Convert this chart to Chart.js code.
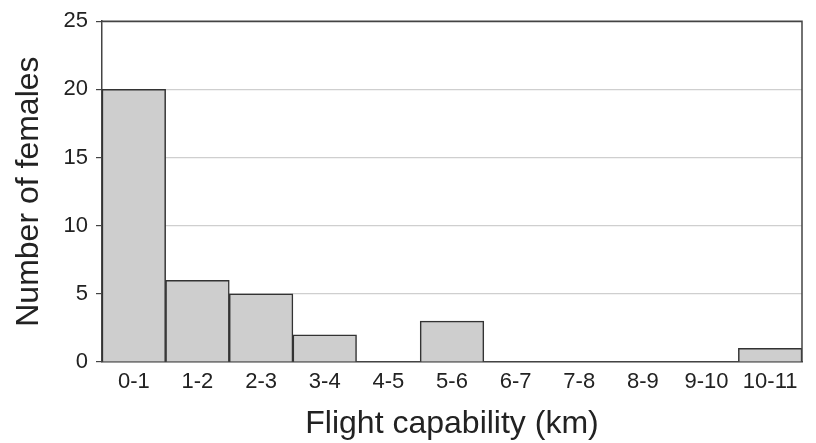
<!DOCTYPE html>
<html><head><meta charset="utf-8">
<script src="https://cdn.jsdelivr.net/npm/chart.js@4/dist/chart.umd.min.js"></script>
<style>html,body{margin:0;padding:0;background:#fff}#w{width:816px;height:443px}</style>
</head><body><div id="w"><canvas id="c"></canvas></div>
<script>
const categories = ["0-1","1-2","2-3","3-4","4-5","5-6","6-7","7-8","8-9","9-10","10-11"];
const females = [20,6,5,2,0,3,0,0,0,0,1];
const yTicks = [0,5,10,15,20,25];

const frame = {
  id:'frame',
  afterDatasetsDraw(chart){
    const {ctx, chartArea:a} = chart;
    ctx.save();
    ctx.strokeStyle='#444'; ctx.lineWidth=1.5;
    ctx.beginPath();
    ctx.moveTo(a.left,a.top); ctx.lineTo(a.right,a.top); ctx.lineTo(a.right,a.bottom);
    ctx.stroke();
    ctx.restore();
  }
};

new Chart(document.getElementById('c'),{
  type:'bar',
  data:{labels:categories,datasets:[{data:females,backgroundColor:'#cecece',borderColor:'#333',borderWidth:1.5,categoryPercentage:1,barPercentage:1}]},
  options:{
    responsive:true,maintainAspectRatio:false,animation:false,
    layout:{padding:{left:0,right:14,top:18,bottom:0}},
    plugins:{legend:{display:false},tooltip:{enabled:false}},
    scales:{
      x:{
        grid:{display:false,drawTicks:false},
        border:{color:'#444',width:1.5},
        ticks:{color:'#222',font:{family:'Liberation Sans',size:22},padding:7,maxRotation:0,autoSkip:false},
        title:{display:true,text:'Flight capability (km)',color:'#222',font:{family:'Liberation Sans',size:32},padding:{top:2,bottom:0}},
        afterFit(s){s.height=81;}
      },
      y:{
        min:0,max:25,
        afterBuildTicks(s){s.ticks=yTicks.map(v=>({value:v}));},
        grid:{color:c=>c.tick&&c.tick.value===25?'#444':'#cfcfcf',lineWidth:1.2,tickLength:6,tickColor:'#444'},
        border:{color:'#444',width:1.5},
        ticks:{color:'#222',font:{family:'Liberation Sans',size:22},padding:8},
        title:{display:true,text:'Number of females',color:'#222',font:{family:'Liberation Sans',size:32},padding:{top:10,bottom:0}},
        afterFit(s){s.width=102;}
      }
    }
  },
  plugins:[frame]
});
</script></body></html>
